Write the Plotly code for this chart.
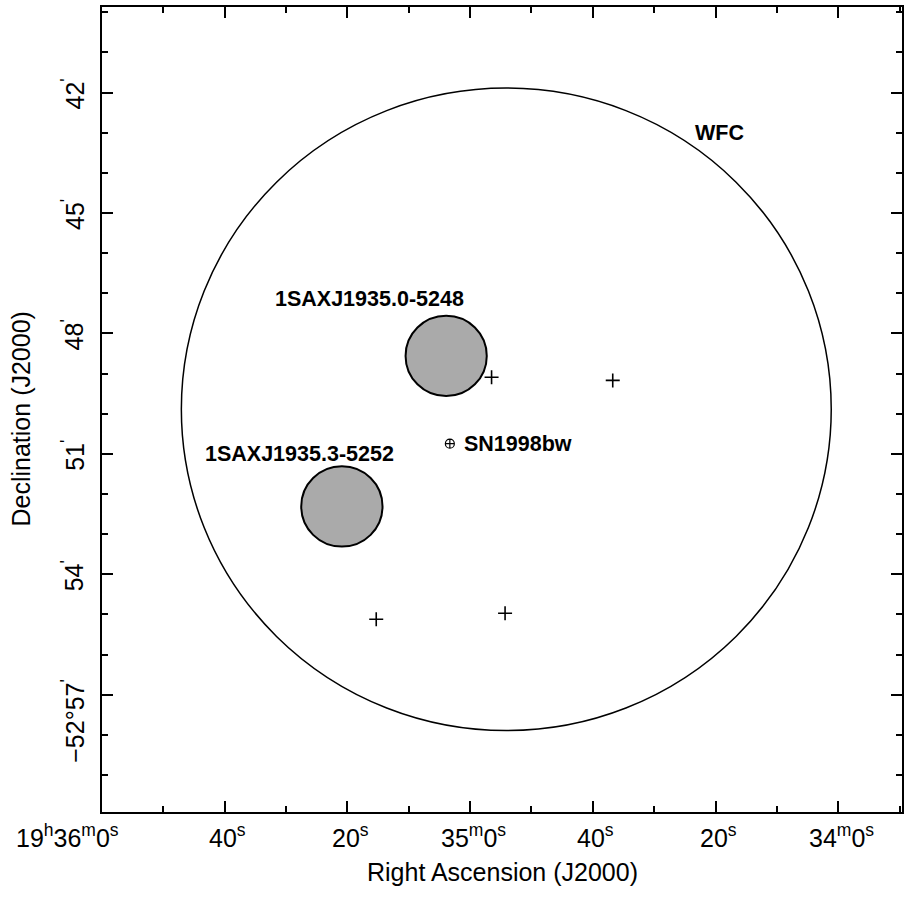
import math
import plotly.graph_objects as go

# ---------------- data ----------------
# RA given as seconds of time after 19h00m00s; Dec given as arcmin offset from -52 deg (negative = south)
wfc_label = "WFC"
wfc_ra = 2094.1
wfc_dec = -49.89
wfc_radius = 8.0  # arcmin

sax_names = ["1SAXJ1935.0-5248", "1SAXJ1935.3-5252"]
sax_ra = [2103.9, 2120.9]
sax_dec = [-48.56, -52.31]
sax_radius = [1.0, 1.0]  # arcmin

cross_ra = [2096.5, 2076.75, 2115.3, 2094.3]
cross_dec = [-49.09, -49.17, -55.12, -54.97]

sn_name = "SN1998bw"
sn_ra = [2103.3]
sn_dec = [-50.745]

x_tick_vals = [2160, 2140, 2120, 2100, 2080, 2060, 2040]
x_tick_text = ["19<sup>h</sup>36<sup>m</sup>0<sup>s</sup>", "40<sup>s</sup>", "20<sup>s</sup>",
               "35<sup>m</sup>0<sup>s</sup>", "40<sup>s</sup>", "20<sup>s</sup>",
               "34<sup>m</sup>0<sup>s</sup>"]
y_tick_vals = [-42, -45, -48, -51, -54, -57]
y_tick_text = ["42<sup>'</sup>", "45<sup>'</sup>", "48<sup>'</sup>", "51<sup>'</sup>",
               "54<sup>'</sup>", "\u221252\u00b057<sup>'</sup>"]

x_range = [2160, 2029.6]
y_range = [-59.92, -39.87]

FONT = "Liberation Sans, Arial, Helvetica, sans-serif"


def ra_half_width(r_arcmin, dec_off):
    dec_deg = -52 + dec_off / 60.0
    return r_arcmin / (0.25 * math.cos(math.radians(dec_deg)))


fig = go.Figure()

shapes = []
# WFC field of view
rx = ra_half_width(wfc_radius, wfc_dec)
shapes.append(dict(type="circle", xref="x", yref="y",
                   x0=wfc_ra - rx, x1=wfc_ra + rx,
                   y0=wfc_dec - wfc_radius, y1=wfc_dec + wfc_radius,
                   line=dict(color="black", width=1.5), layer="below"))
for ra, dec, r in zip(sax_ra, sax_dec, sax_radius):
    rx = ra_half_width(r, dec)
    shapes.append(dict(type="circle", xref="x", yref="y",
                       x0=ra - rx, x1=ra + rx, y0=dec - r, y1=dec + r,
                       fillcolor="#aaaaaa", line=dict(color="black", width=2),
                       layer="below"))

fig.add_trace(go.Scatter(x=cross_ra, y=cross_dec, mode="markers",
                         marker=dict(symbol="cross-thin", size=10,
                                     line=dict(color="black", width=1.6)),
                         hoverinfo="skip", showlegend=False))
fig.add_trace(go.Scatter(x=sn_ra, y=sn_dec, mode="markers",
                         marker=dict(symbol="circle-cross-open", size=9, color="black",
                                     line=dict(color="black", width=1.2)),
                         hoverinfo="skip", showlegend=False))

ann = []
label_font = dict(family=FONT, size=21.5, color="black")
ann.append(dict(x=wfc_ra, y=wfc_dec, xref="x", yref="y", text="<b>%s</b>" % wfc_label,
                showarrow=False, font=label_font, xanchor="center", yanchor="middle",
                xshift=213, yshift=276))
sax_shifts = [(-77, 57), (-42, 52)]
for name, ra, dec, (dx, dy) in zip(sax_names, sax_ra, sax_dec, sax_shifts):
    ann.append(dict(x=ra, y=dec, xref="x", yref="y", text="<b>%s</b>" % name,
                    showarrow=False, font=label_font, xanchor="center", yanchor="middle",
                    xshift=dx, yshift=dy))
ann.append(dict(x=sn_ra[0], y=sn_dec[0], xref="x", yref="y", text="<b>%s</b>" % sn_name,
                showarrow=False, font=label_font, xanchor="left", yanchor="middle",
                xshift=12, yshift=0))

tick_font = dict(family=FONT, size=25, color="black")
for i, (v, t) in enumerate(zip(x_tick_vals, x_tick_text)):
    if i == 0:
        ann.append(dict(x=v, y=0, xref="x", yref="paper", text=t, showarrow=False,
                        font=tick_font, xanchor="left", yanchor="top", xshift=-88, yshift=-6))
    else:
        ann.append(dict(x=v, y=0, xref="x", yref="paper", text=t, showarrow=False,
                        font=tick_font, xanchor="center", yanchor="top", xshift=3, yshift=-6))
for i, (v, t) in enumerate(zip(y_tick_vals, y_tick_text)):
    ys = -26 if i == len(y_tick_vals) - 1 else -2
    ann.append(dict(x=0, y=v, xref="paper", yref="y", text=t, showarrow=False,
                    font=tick_font, xanchor="right", yanchor="middle", textangle=-90,
                    xshift=-11, yshift=ys))

ann.append(dict(x=0.5, y=0, xref="paper", yref="paper", text="Right Ascension (J2000)",
                showarrow=False, font=dict(family=FONT, size=25, color="black"),
                xanchor="center", yanchor="top", yshift=-44))
ann.append(dict(x=0, y=0.5, xref="paper", yref="paper", text="Declination (J2000)",
                showarrow=False, font=dict(family=FONT, size=25, color="black"),
                xanchor="right", yanchor="middle", textangle=-90, xshift=-66, yshift=-10))

axis_common = dict(showgrid=False, zeroline=False, showline=True, linecolor="black",
                   linewidth=2, mirror="allticks", ticks="inside", ticklen=11,
                   tickwidth=1.5, tickcolor="black", showticklabels=False)

fig.update_layout(
    width=909, height=899,
    margin=dict(l=102, r=5, t=5, b=87),
    paper_bgcolor="white", plot_bgcolor="white",
    shapes=shapes, annotations=ann, showlegend=False,
    xaxis=dict(range=x_range, tickvals=x_tick_vals,
               minor=dict(dtick=10, tick0=2160, ticks="inside", ticklen=6, tickwidth=1.5,
                          tickcolor="black", showgrid=False),
               **axis_common),
    yaxis=dict(range=y_range, tickvals=y_tick_vals,
               minor=dict(dtick=1, tick0=-42, ticks="inside", ticklen=6, tickwidth=1.5,
                          tickcolor="black", showgrid=False),
               **axis_common),
)

fig.write_html("out.html", config={"displayModeBar": False},
               post_script="document.body.style.margin='0px';")
